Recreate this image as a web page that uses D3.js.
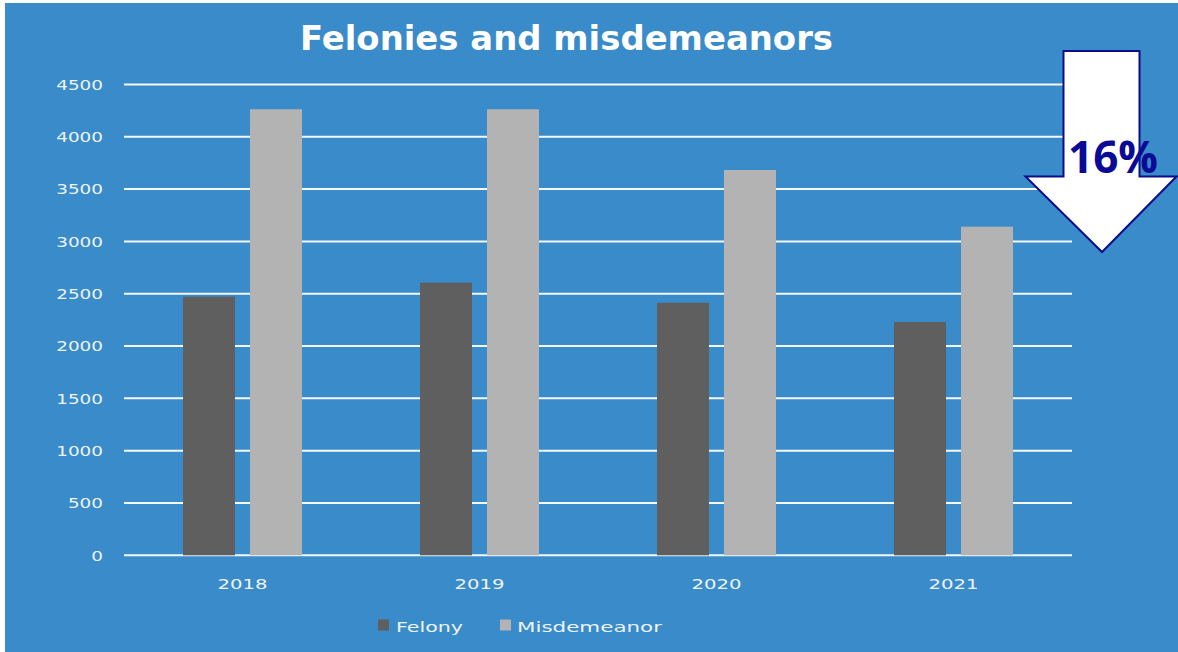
<!DOCTYPE html>
<html>
<head>
<meta charset="utf-8">
<script src="https://cdn.jsdelivr.net/npm/d3@7"></script>
<style>
  html, body { margin: 0; padding: 0; background: #ffffff; }
  svg { display: block; }
</style>
</head>
<body>
<svg id="chart" width="1178" height="652"></svg>
<script>
// Yearly case counts
const years = ["2018", "2019", "2020", "2021"];
const seriesNames = ["Felony", "Misdemeanor"];
const felony = [2472, 2606, 2414, 2230];
const misdemeanor = [4263, 4263, 3683, 3141];
const yTicks = [0, 500, 1000, 1500, 2000, 2500, 3000, 3500, 4000, 4500];
const chartTitle = "Felonies and misdemeanors";
const changeLabel = "16%";

const colors = { Felony: "#5f5f5f", Misdemeanor: "#b3b3b3" };
const bg = "#398bc9";
const textColor = "#eef3f8";
const labelFont = "'DejaVu Sans', Verdana, sans-serif";

const svg = d3.select("#chart");

// Panel background (thin white margin on top and left)
svg.append("rect").attr("x", 5).attr("y", 3).attr("width", 1173).attr("height", 649).attr("fill", bg);

const plot = { left: 124, right: 1072, top: 84.5, bottom: 555.3 };

const x0 = d3.scaleBand().domain(years).range([plot.left, plot.right]).paddingInner(0).paddingOuter(0);
const x1 = d3.scaleBand().domain(seriesNames).range([-59.5, 59.5]).paddingInner(15 / 67).paddingOuter(0);
const y = d3.scaleLinear().domain([0, 4500]).range([plot.bottom, plot.top]);

// Gridlines
svg.append("g")
  .selectAll("line")
  .data(yTicks)
  .join("line")
  .attr("x1", plot.left)
  .attr("x2", plot.right)
  .attr("y1", d => y(d))
  .attr("y2", d => y(d))
  .attr("stroke", "#f4f8fc")
  .attr("stroke-width", 2);

// Y tick labels
const yAxis = d3.axisLeft(y).tickValues(yTicks).tickSize(0).tickPadding(0).tickFormat(d3.format("d"));
const yg = svg.append("g").attr("transform", `translate(${103},0)`).call(yAxis);
yg.select(".domain").remove();
yg.selectAll("text")
  .attr("fill", textColor)
  .attr("font-family", labelFont)
  .attr("font-size", 13.5)
  .attr("dy", "0.36em")
  .attr("textLength", function (d) { return String(d).length * 11.7; })
  .attr("lengthAdjust", "spacingAndGlyphs");

// X tick labels
const xAxis = d3.axisBottom(x0).tickSize(0).tickPadding(0);
const xg = svg.append("g").attr("transform", `translate(0,${577})`).call(xAxis);
xg.select(".domain").remove();
xg.selectAll("text")
  .attr("fill", textColor)
  .attr("font-family", labelFont)
  .attr("font-size", 14)
  .attr("dy", "0.85em")
  .attr("textLength", 50)
  .attr("lengthAdjust", "spacingAndGlyphs");

// Bars
const rows = years.map((yr, i) => ({ year: yr, values: [
  { key: "Felony", value: felony[i] },
  { key: "Misdemeanor", value: misdemeanor[i] }
]}));

svg.append("g")
  .selectAll("g")
  .data(rows)
  .join("g")
  .attr("transform", d => `translate(${x0(d.year) + x0.bandwidth() / 2},0)`)
  .selectAll("rect")
  .data(d => d.values)
  .join("rect")
  .attr("x", d => x1(d.key))
  .attr("width", x1.bandwidth())
  .attr("y", d => y(d.value))
  .attr("height", d => y(0) - y(d.value))
  .attr("fill", d => colors[d.key]);

// Title
svg.append("text")
  .attr("x", 300)
  .attr("y", 50)
  .attr("fill", "#ffffff")
  .attr("font-family", "'DejaVu Sans', 'Liberation Sans', sans-serif")
  .attr("font-weight", "bold")
  .attr("font-size", 34)
  .attr("textLength", 533)
  .attr("lengthAdjust", "spacingAndGlyphs")
  .text(chartTitle);

// Legend
const legendItems = [
  { key: "Felony", sx: 378, tx: 396, tw: 67 },
  { key: "Misdemeanor", sx: 500, tx: 517, tw: 145 }
];
const lg = svg.append("g");
lg.selectAll("rect")
  .data(legendItems)
  .join("rect")
  .attr("x", d => d.sx)
  .attr("y", 619.5)
  .attr("width", 11)
  .attr("height", 11)
  .attr("fill", d => colors[d.key]);
lg.selectAll("text")
  .data(legendItems)
  .join("text")
  .attr("x", d => d.tx)
  .attr("y", 632)
  .attr("fill", textColor)
  .attr("font-family", labelFont)
  .attr("font-size", 14.5)
  .attr("textLength", d => d.tw)
  .attr("lengthAdjust", "spacingAndGlyphs")
  .text(d => d.key);

// Downward arrow callout
const arrowPts = [
  [1063.5, 51], [1139.5, 51], [1139.5, 176.5], [1176.5, 176.5],
  [1102, 252], [1025.5, 176.5], [1063.5, 176.5]
];
svg.append("path")
  .attr("d", d3.line()(arrowPts) + "Z")
  .attr("fill", "#ffffff")
  .attr("stroke", "#0d0d8a")
  .attr("stroke-width", 2)
  .attr("stroke-linejoin", "miter");

svg.append("text")
  .attr("x", 1113)
  .attr("y", 173)
  .attr("text-anchor", "middle")
  .attr("fill", "#0a0a96")
  .attr("font-family", "'Open Sans', 'Liberation Sans', sans-serif")
  .attr("font-weight", "bold")
  .attr("font-size", 45)
  .attr("textLength", 90)
  .attr("lengthAdjust", "spacingAndGlyphs")
  .text(changeLabel);
</script>
</body>
</html>
